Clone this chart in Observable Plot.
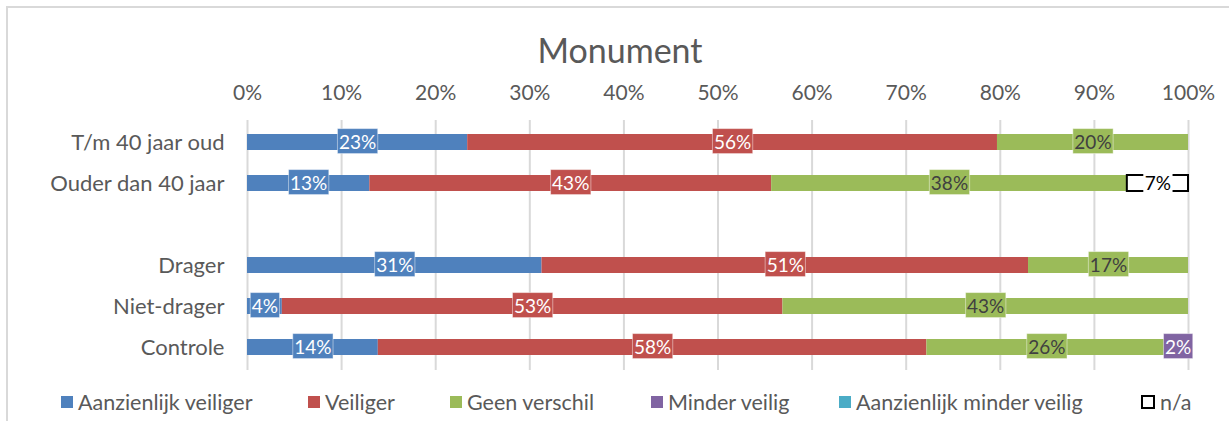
<!DOCTYPE html>
<html>
<head>
<meta charset="utf-8">
<script src="https://cdn.jsdelivr.net/npm/d3@7"></script>
<script src="https://cdn.jsdelivr.net/npm/@observablehq/plot@0.6"></script>
<style>
  html, body { margin: 0; padding: 0; background: #fff; }
  #wrap { position: relative; width: 1229px; height: 421px; overflow: hidden; font-family: Lato, sans-serif; color: #595959; }
  #frame { position: absolute; left: 6px; top: 6px; width: 1300px; height: 500px; border: 2px solid #d9d9d9; box-sizing: border-box; }
  #title { position: absolute; left: 0; top: 33px; width: 1240px; text-align: center; font-size: 34px; line-height: 1; }
  #chart { position: absolute; left: 0; top: 0; }
  .lg { position: absolute; top: 389px; height: 26px; display: flex; align-items: center; font-size: 21.5px; white-space: nowrap; }
  .sw { width: 12px; height: 12px; margin-right: 5px; box-sizing: border-box; }
</style>
</head>
<body>
<div id="wrap">
  <div id="frame"></div>
  <div id="chart"></div>
  <div id="title">Monument</div>
  <div id="legend"></div>
</div>
<script>
// ---- data ----
const categories = ["T/m 40 jaar oud", "Ouder dan 40 jaar", "Drager", "Niet-drager", "Controle"];
const seriesNames = ["Aanzienlijk veiliger", "Veiliger", "Geen verschil", "Minder veilig", "Aanzienlijk minder veilig", "n/a"];
const seriesColors = ["#4F81BD", "#C0504D", "#9BBB59", "#8064A2", "#4BACC6", "#FFFFFF"];

const aanzienlijkVeiliger      = [23.4, 13.0, 31.3, 3.7, 13.9];
const veiliger                 = [56.3, 42.7, 51.7, 53.2, 58.3];
const geenVerschil             = [20.3, 37.8, 17.0, 43.1, 25.5];
const minderVeilig             = [0, 0, 0, 0, 2.4];
const aanzienlijkMinderVeilig  = [0, 0, 0, 0, 0];
const nvt                      = [0, 6.5, 0, 0, 0];

const labelsAanzienlijkVeiliger = ["23%", "13%", "31%", "4%", "14%"];
const labelsVeiliger            = ["56%", "43%", "51%", "53%", "58%"];
const labelsGeenVerschil        = ["20%", "38%", "17%", "43%", "26%"];
const labelsMinderVeilig        = ["", "", "", "", "2%"];
const labelsAanzienlijkMinder   = ["", "", "", "", ""];
const labelsNvt                 = ["", "7%", "", "", ""];

const xTicks = [0, 10, 20, 30, 40, 50, 60, 70, 80, 90, 100];
const gapLabel = " ";
const yDomain = [categories[0], categories[1], gapLabel, categories[2], categories[3], categories[4]];

// ---- build stacked segments ----
const seriesValues = [aanzienlijkVeiliger, veiliger, geenVerschil, minderVeilig, aanzienlijkMinderVeilig, nvt];
const seriesLabels = [labelsAanzienlijkVeiliger, labelsVeiliger, labelsGeenVerschil, labelsMinderVeilig, labelsAanzienlijkMinder, labelsNvt];
const textColors = ["#FFFFFF", "#FFFFFF", "#404040", "#FFFFFF", "#FFFFFF", "#000000"];

const segments = [];
categories.forEach((cat, ci) => {
  let acc = 0;
  seriesNames.forEach((s, si) => {
    const v = seriesValues[si][ci];
    if (v > 0) {
      segments.push({cat, series: s, x1: acc, x2: acc + v, mid: acc + v / 2,
        label: seriesLabels[si][ci], box: seriesColors[si], tcolor: textColors[si]});
    }
    acc += v;
  });
});
const labelled = segments.filter(d => d.label);
const lightLabels = labelled.filter(d => d.tcolor === "#FFFFFF");
const darkLabels = labelled.filter(d => d.tcolor !== "#FFFFFF");

const chart = Plot.plot({
  width: 1229,
  height: 375,
  marginTop: 120,
  marginBottom: 5,
  marginLeft: 247,
  marginRight: 41,
  style: {fontFamily: "Lato, sans-serif", color: "#595959", background: "transparent", overflow: "visible"},
  x: {domain: [0, 100]},
  y: {domain: yDomain, paddingInner: 0.6, paddingOuter: 0.28},
  color: {domain: seriesNames, range: seriesColors},
  marks: [
    Plot.gridX(xTicks, {stroke: "#d9d9d9", strokeOpacity: 1, strokeWidth: 2}),
    Plot.barX(segments.filter(d => d.series !== "n/a"), {x1: "x1", x2: "x2", y: "cat", fill: "series"}),
    Plot.barX(segments.filter(d => d.series === "n/a"), {x1: "x1", x2: "x2", y: "cat", fill: "white", stroke: "black", strokeWidth: 2}),
    Plot.axisX(xTicks, {anchor: "top", tickSize: 0, tickPadding: 21, fontSize: 21, tickFormat: d => d + "%", label: null}),
    Plot.axisY({tickSize: 0, tickPadding: 23, fontSize: 22, label: null}),
    Plot.text(lightLabels, {x: "mid", y: "cat", text: "label", fill: "#FFFFFF", fontSize: 19}),
    Plot.text(darkLabels, {x: "mid", y: "cat", text: "label", fill: "#404040", fontSize: 19})
  ]
});
document.getElementById("chart").appendChild(chart);

// label boxes behind the text (Excel-style data label background)
const groups = chart.querySelectorAll('g[aria-label="text"]');
[lightLabels, darkLabels].forEach((arr, gi) => {
  const g = groups[gi];
  if (!g) return;
  const texts = g.querySelectorAll("text");
  texts.forEach((t, i) => {
    const d = arr[i];
    const bb = t.getBBox();
    const r = document.createElementNS("http://www.w3.org/2000/svg", "rect");
    const cy = bb.y + bb.height / 2;
    r.setAttribute("x", bb.x - 1.5);
    r.setAttribute("width", bb.width + 3);
    r.setAttribute("y", cy - 12.5);
    r.setAttribute("height", 25);
    r.setAttribute("fill", d.box);
    if (d.series !== "n/a") { r.setAttribute("stroke", "rgba(255,255,255,0.45)"); r.setAttribute("stroke-width", 1); }
    const tr = t.getAttribute("transform");
    if (tr) r.setAttribute("transform", tr);
    g.insertBefore(r, t);
    t.setAttribute("fill", d.tcolor);
  });
});

// legend
const legendX = [61, 308, 450, 651, 839, 1141];
const legend = document.getElementById("legend");
seriesNames.forEach((s, i) => {
  const it = document.createElement("div");
  it.className = "lg";
  it.style.left = legendX[i] + "px";
  const sw = document.createElement("div");
  sw.className = "sw";
  if (s === "n/a") { sw.style.border = "2px solid #000"; sw.style.background = "#fff"; sw.style.width = "14px"; sw.style.height = "14px"; }
  else sw.style.background = seriesColors[i];
  const tx = document.createElement("span");
  tx.textContent = s;
  it.appendChild(sw); it.appendChild(tx);
  legend.appendChild(it);
});
</script>
</body>
</html>
